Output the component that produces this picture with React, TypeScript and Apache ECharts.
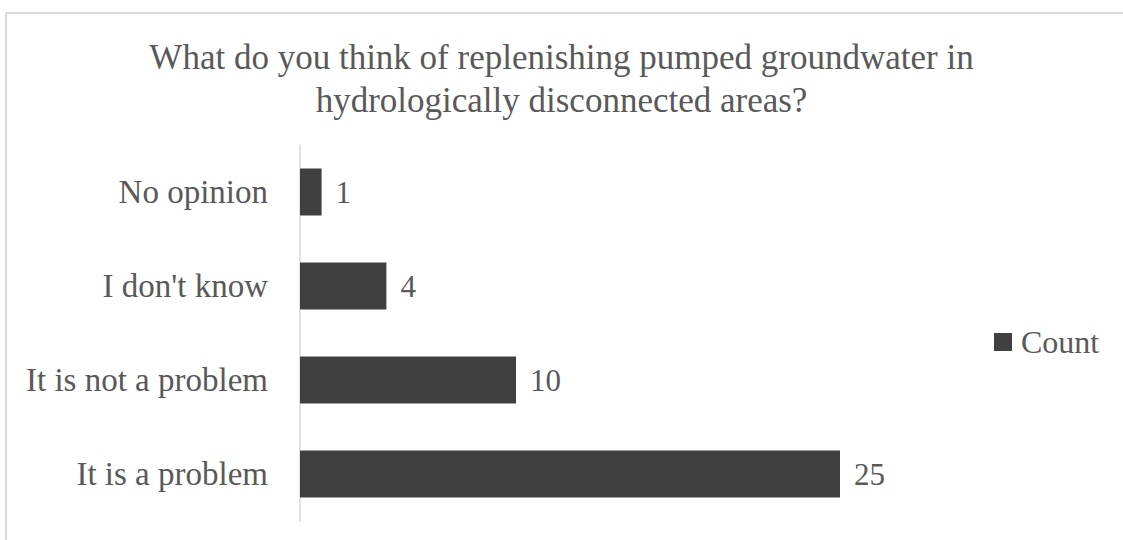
import React, { useEffect, useRef } from "react";
import * as echarts from "echarts";

const categories = ["It is a problem", "It is not a problem", "I don't know", "No opinion"];
const counts = [25, 10, 4, 1];
const seriesName = "Count";
const titleLines = [
  "What do you think of replenishing pumped groundwater in",
  "hydrologically disconnected areas?",
];

const FONT = "'Liberation Serif', 'DejaVu Serif', serif";
const TEXT = "#595959";

export default function App() {
  const ref = useRef<HTMLDivElement>(null);

  useEffect(() => {
    if (!ref.current) return;
    const chart = echarts.init(ref.current, null, { renderer: "svg" });
    chart.setOption({
      animation: false,
      backgroundColor: "#ffffff",
      textStyle: { fontFamily: FONT },
      title: {
        text: titleLines.join("\n"),
        left: "center",
        top: 31,
        textStyle: {
          fontFamily: FONT,
          fontSize: 35,
          fontWeight: "normal",
          color: TEXT,
          lineHeight: 43,
        },
      },
      legend: {
        left: 989,
        top: 321,
        icon: "rect",
        itemWidth: 18,
        itemHeight: 18,
        itemGap: 8,
        data: [seriesName],
        textStyle: { fontFamily: FONT, fontSize: 32, color: TEXT, padding: [0, 0, 0, 4] },
      },
      grid: { left: 300, top: 145, width: 648, height: 376 },
      xAxis: {
        type: "value",
        min: 0,
        max: 30,
        show: false,
        splitLine: { show: false },
      },
      yAxis: {
        type: "category",
        data: categories,
        axisLine: { show: true, lineStyle: { color: "#d9d9d9", width: 1.5 } },
        axisTick: { show: false },
        axisLabel: { fontFamily: FONT, fontSize: 33, color: TEXT, margin: 32 },
      },
      series: [
        {
          name: seriesName,
          type: "bar",
          data: counts,
          barCategoryGap: "50%",
          itemStyle: { color: "#404040" },
          label: {
            show: true,
            position: "right",
            distance: 14,
            fontFamily: FONT,
            fontSize: 31,
            color: TEXT,
          },
        },
      ],
      graphic: [
        {
          type: "rect",
          shape: { x: 6, y: 13, width: 1200, height: 600 },
          style: { fill: "none", stroke: "#d9d9d9", lineWidth: 2 },
          silent: true,
        },
      ],
    });
    return () => chart.dispose();
  }, []);

  return (
    <div
      ref={ref}
      style={{ position: "absolute", left: 0, top: 0, width: 1123, height: 540 }}
    />
  );
}
